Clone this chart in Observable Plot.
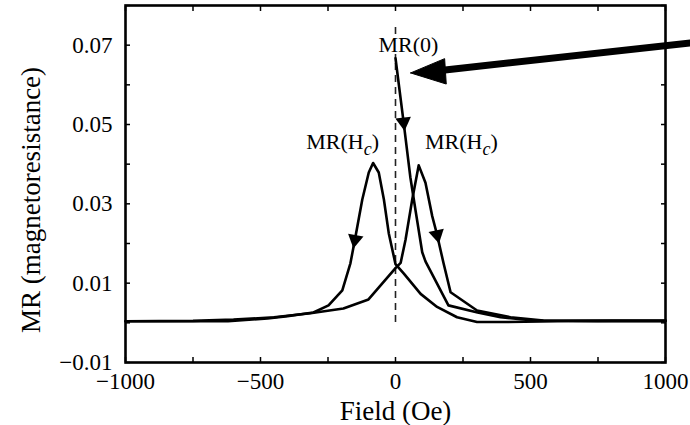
<!DOCTYPE html>
<html><head><meta charset="utf-8">
<script src="https://cdn.jsdelivr.net/npm/d3@7"></script>
<script src="https://cdn.jsdelivr.net/npm/@observablehq/plot@0.6"></script>
<style>
body{margin:0;background:#fff;}
#chart svg{font-family:"Liberation Serif",serif;}
</style></head><body><div id="chart"></div>
<script>
// Sweep from +H to −H (peak at −Hc)
const descField = [-1000,-800,-620,-474,-400,-304,-248,-197,-167,-148,-123,-99,-83,-62,-43,-25,0,31,93,154,228,302,400,600,800,1000];
const descMR    = [0.0004,0.0004,0.0004,0.0011,0.0017,0.0026,0.0044,0.0082,0.0150,0.0218,0.0311,0.0379,0.0403,0.0379,0.0311,0.0226,0.0148,0.0124,0.0073,0.0040,0.0014,0.0002,0.0002,0.0004,0.0005,0.0005];
// Sweep from −H to +H (peak at +Hc)
const ascField = [-1000,-750,-600,-450,-315,-193,-100,0,19,37,62,86,111,136,154,167,178,204,302,426,548,750,1000];
const ascMR    = [0.0004,0.0005,0.0008,0.0014,0.0024,0.0036,0.0059,0.0138,0.0151,0.0209,0.0311,0.0397,0.0353,0.0269,0.0222,0.0183,0.0150,0.0077,0.0031,0.0014,0.0006,0.0005,0.0005];
// Initial curve starting from MR(0)
const initField = [0,30,55,75,99,111,196,304,389,511,750,1000];
const initMR    = [0.0667,0.0506,0.0367,0.0280,0.0178,0.0155,0.0044,0.0026,0.0014,0.0006,0.0005,0.0005];

// Direction markers on the curves
const markerField  = [30,-150,154];
const markerMR     = [0.0506,0.0210,0.0222];
const markerRotate = [174,190,168];

// Annotations
const labelText  = ["MR(0)","MR(Hc)","MR(Hc)"];
const labelField = [48,-196,244];
const labelMR    = [0.0700,0.0455,0.0455];
const arrowShaft = [{x1:1100,y1:0.0706,x2:175,y2:0.0637}];
const arrowHead  = [[56,0.0630],[182,0.0666],[188,0.0602],[56,0.0630]];
const zeroLine   = [{x:0,y1:0.0001,y2:0.0745}];
const xTitle = "Field (Oe)";
const yTitle = "MR (magnetoresistance)";

const xTickLabels = [-1000,-500,0,500,1000];
const xMinorTicks = [-1000,-750,-500,-250,0,250,500,750,1000];
const yTickLabels = [-0.01,0.01,0.03,0.05,0.07];
const yMinorTicks = [-0.01,0,0.01,0.02,0.03,0.04,0.05,0.06,0.07,0.08];

const toRows = (xs, ys) => xs.map((x,i)=>({x, y: ys[i]}));
const fmtNum = d => (d < 0 ? "\u2212" + String(-d) : String(d));

const chart = Plot.plot({
  width: 690, height: 425,
  marginLeft: 125, marginRight: 25, marginTop: 5, marginBottom: 63,
  style: {fontFamily: "Liberation Serif, serif", fontSize: "23px", background: "#fff", color: "#000", overflow: "visible"},
  x: {domain: [-1000, 1000]},
  y: {domain: [-0.01, 0.08]},
  marks: [
    Plot.ruleX(zeroLine, {x: "x", y1: "y1", y2: "y2", stroke: "#222", strokeWidth: 1.6, strokeDasharray: "7,5"}),
    Plot.line(toRows(descField, descMR), {x: "x", y: "y", stroke: "#000", strokeWidth: 2.6}),
    Plot.line(toRows(ascField, ascMR), {x: "x", y: "y", stroke: "#000", strokeWidth: 2.6}),
    Plot.line(toRows(initField, initMR), {x: "x", y: "y", stroke: "#000", strokeWidth: 2.6}),
    Plot.dot(markerField.map((x,i)=>({x, y: markerMR[i], r: markerRotate[i]})), {x: "x", y: "y", rotate: "r", symbol: "triangle", r: 5.8, fill: "#000", stroke: "none"}),
    Plot.link(arrowShaft, {x1: "x1", y1: "y1", x2: "x2", y2: "y2", stroke: "#000", strokeWidth: 7}),
    Plot.line(arrowHead.map(([x,y])=>({x,y})), {x: "x", y: "y", fill: "#000", stroke: "#000", strokeWidth: 1}),
    Plot.text(labelText.map((t,i)=>({t, x: labelField[i], y: labelMR[i]})), {x: "x", y: "y", text: "t", fontSize: 22, fill: "#000", stroke: "#fff", strokeWidth: 4, paintOrder: "stroke"}),
    Plot.frame({stroke: "#000", strokeWidth: 2.6}),
    Plot.axisX({anchor: "bottom", ticks: xMinorTicks, tickSize: -5, tickFormat: () => "", label: null, strokeWidth: 1.5}),
    Plot.axisX({anchor: "top", ticks: xMinorTicks, tickSize: -5, tickFormat: () => "", label: null, strokeWidth: 1.5}),
    Plot.axisY({anchor: "left", ticks: yMinorTicks, tickSize: -5, tickFormat: () => "", label: null, strokeWidth: 1.5}),
    Plot.axisY({anchor: "right", ticks: yMinorTicks, tickSize: -5, tickFormat: () => "", label: null, strokeWidth: 1.5}),
    Plot.axisX({anchor: "bottom", ticks: xTickLabels, tickSize: 0, tickPadding: 10, tickFormat: fmtNum, fontSize: 23, label: null}),
    Plot.axisY({anchor: "left", ticks: yTickLabels, tickSize: 0, tickPadding: 13, tickFormat: fmtNum, fontSize: 23, label: null}),
    Plot.text([xTitle], {frameAnchor: "bottom", dy: 49, fontSize: 27, lineAnchor: "middle", fill: "#000"}),
    Plot.text([yTitle], {frameAnchor: "left", dx: -94, dy: 16, rotate: -90, fontSize: 27, textAnchor: "middle", lineAnchor: "middle", fill: "#000"})
  ]
});
document.getElementById("chart").appendChild(chart);

// Subscript italic c in MR(Hc)
chart.querySelectorAll("text").forEach(t => {
  if (t.textContent === "MR(Hc)") {
    const tspans = t.querySelectorAll("tspan");
    const target = tspans.length ? tspans[0] : t;
    target.textContent = "";
    const ns = "http://www.w3.org/2000/svg";
    const a = document.createElementNS(ns, "tspan"); a.textContent = "MR(H";
    const b = document.createElementNS(ns, "tspan"); b.textContent = "c";
    b.setAttribute("font-style", "italic"); b.setAttribute("dy", "6"); b.setAttribute("font-size", "18");
    const c = document.createElementNS(ns, "tspan"); c.textContent = ")"; c.setAttribute("dy", "-6");
    target.append(a, b, c);
  }
});
</script></body></html>
